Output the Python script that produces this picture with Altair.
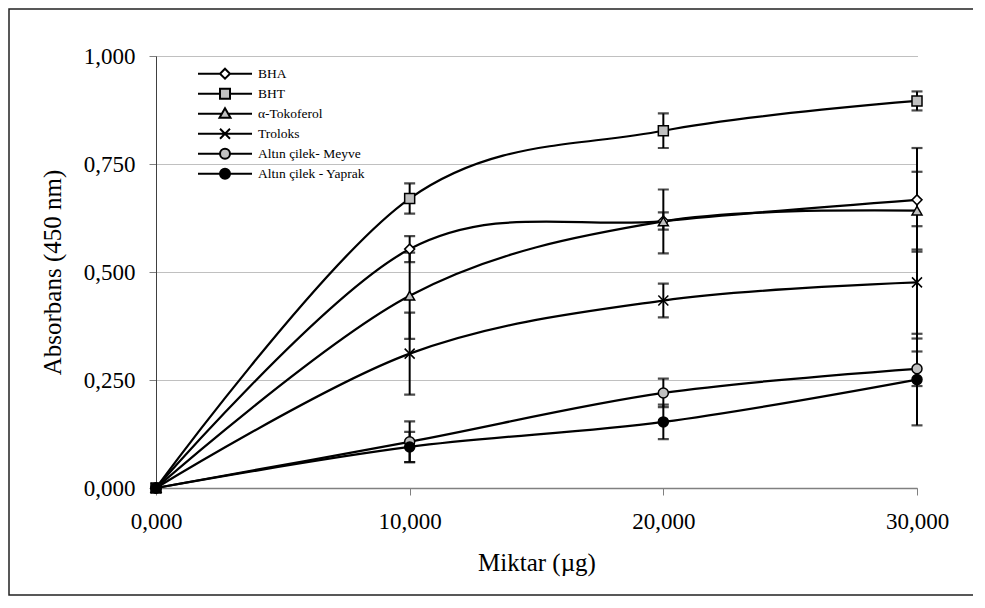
import altair as alt
import pandas as pd

# ---- data ----
amounts = [0, 10000, 20000, 30000]
series_names = ["BHA", "BHT", "α-Tokoferol", "Troloks",
                "Altın çilek- Meyve", "Altın çilek - Yaprak"]
bha = [0.000, 0.553, 0.618, 0.667]
bha_err = [0.0, 0.030, 0.020, 0.120]
bht = [0.000, 0.670, 0.827, 0.896]
bht_err = [0.0, 0.035, 0.040, 0.022]
tokoferol = [0.000, 0.445, 0.617, 0.642]
tokoferol_err = [0.0, 0.100, 0.074, 0.090]
troloks = [0.000, 0.311, 0.434, 0.476]
troloks_err = [0.0, 0.095, 0.039, 0.130]
meyve = [0.000, 0.107, 0.220, 0.276]
meyve_err = [0.0, 0.047, 0.033, 0.040]
yaprak = [0.000, 0.095, 0.153, 0.251]
yaprak_err = [0.0, 0.035, 0.040, 0.106]

y_ticks = [0, 0.25, 0.5, 0.75, 1.0]
x_ticks = [0, 10000, 20000, 30000]

values = [bha, bht, tokoferol, troloks, meyve, yaprak]
errors = [bha_err, bht_err, tokoferol_err, troloks_err, meyve_err, yaprak_err]

rows = []
for name, vals, errs in zip(series_names, values, errors):
    for a, v, e in zip(amounts, vals, errs):
        rows.append({"seri": name, "miktar": a, "abs": v, "err": e,
                     "lo": v - e, "hi": v + e})
df = pd.DataFrame(rows)

FONT = "Liberation Serif"
W, H = 761, 432

point_shapes = ["diamond", "square", "triangle-up",
                "M-1,-1L1,1M-1,1L1,-1", "circle", "circle"]
fills = ["white", "#c0c0c0", "#c0c0c0", "black", "#c0c0c0", "black"]

m = 0.185
t = 0.64 * m
legend_shapes = [
    f"M-1,0H{-m}M{m},0H1M0,{-m}L{m},0L0,{m}L{-m},0Z",
    f"M-1,0H{-m}M{m},0H1M{-m},{-m}H{m}V{m}H{-m}Z",
    f"M-1,0H{-t}M{t},0H1M0,{-1.1*m}L{1.1*m},{0.8*m}H{-1.1*m}Z",
    f"M-1,0H1M{-m},{-m}L{m},{m}M{-m},{m}L{m},{-m}",
    f"M-1,0H{-m}M{m},0H1M{m},0A{m},{m},0,1,1,{-m},0A{m},{m},0,1,1,{m},0Z",
    f"M-1,0H{-m}M{m},0H1M{m},0A{m},{m},0,1,1,{-m},0A{m},{m},0,1,1,{m},0Z",
]

xscale = alt.Scale(domain=[0, 30000], nice=False, zero=True)
yscale = alt.Scale(domain=[0, 1], nice=False)

x_enc = alt.X("miktar:Q", scale=xscale, axis=alt.Axis(
    values=x_ticks, title="Miktar (µg)", grid=False, labelFlush=False,
    labelExpr="replace(format(datum.value / 1000, '.3f'), '.', ',')",
    domainColor="#808080", domainWidth=1.5, tickColor="#808080",
    tickSize=7, tickWidth=1, labelPadding=15,
    labelFont=FONT, labelFontSize=23, labelColor="black",
    titleFont=FONT, titleFontSize=25, titleFontWeight="normal",
    titleColor="black", titlePadding=17))

y_enc = alt.Y("abs:Q", scale=yscale, axis=alt.Axis(
    values=y_ticks, title="Absorbans (450 nm)", labelFlush=False,
    labelExpr="replace(format(datum.value, '.3f'), '.', ',')",
    grid=True, gridColor="#808080", gridDash=[1, 1], gridWidth=1,
    domainColor="#404040", domainWidth=1, tickColor="#808080",
    tickSize=7, tickWidth=1, labelPadding=14,
    labelFont=FONT, labelFontSize=23, labelColor="black",
    titleFont=FONT, titleFontSize=25, titleFontWeight="normal",
    titleColor="black", titlePadding=18))

base = alt.Chart(df)

lines = base.mark_line(interpolate="cardinal", color="black",
                       strokeWidth=2.25).encode(
    x=x_enc, y=y_enc, detail="seri:N")

err_df = df[df["err"] > 0]
err_rules = alt.Chart(err_df).mark_rule(color="black", strokeWidth=2).encode(
    x="miktar:Q", y="lo:Q", y2="hi:Q")
cap_lo = alt.Chart(err_df).mark_tick(orient="horizontal", color="black",
                                     size=11, thickness=2.2).encode(
    x="miktar:Q", y="lo:Q")
cap_hi = alt.Chart(err_df).mark_tick(orient="horizontal", color="black",
                                     size=11, thickness=2.2).encode(
    x="miktar:Q", y="hi:Q")

points = base.mark_point(filled=True, stroke="black", strokeWidth=1.5,
                         size=100, opacity=1).encode(
    x="miktar:Q", y="abs:Q",
    shape=alt.Shape("seri:N", scale=alt.Scale(domain=series_names,
                                              range=point_shapes), legend=None),
    fill=alt.Fill("seri:N", scale=alt.Scale(domain=series_names,
                                            range=fills), legend=None))

leg_df = df[df["miktar"] == 0].rename(columns={"seri": "lseri"})
legend_layer = alt.Chart(leg_df).mark_point(filled=True, stroke="black",
                                             strokeWidth=2, opacity=0).encode(
    x="miktar:Q", y="abs:Q",
    shape=alt.Shape("lseri:N", scale=alt.Scale(domain=series_names,
                                               range=legend_shapes),
                    legend=alt.Legend(
                        orient="none", legendX=41, legendY=8, title=None,
                        symbolSize=2916, symbolStrokeWidth=2,
                        symbolOpacity=1,
                        clipHeight=19.4, rowPadding=0, padding=0,
                        labelFont=FONT, labelFontSize=13.5,
                        labelColor="black", labelOffset=5)),
    fill=alt.Fill("lseri:N", scale=alt.Scale(domain=series_names,
                                             range=fills)))

frame = alt.Chart(pd.DataFrame({"k": [0]})).mark_rect(
    fill=None, stroke="#222222", strokeWidth=1.5).encode(
    x=alt.value(-147), x2=alt.value(818), y=alt.value(-47), y2=alt.value(539))

chart = alt.layer(frame, lines, err_rules, cap_lo, cap_hi, points,
                  legend_layer).resolve_scale(
    shape="independent", fill="independent").properties(
    width=W, height=H,
    autosize=alt.AutoSizeParams(type="none"),
    padding={"left": 148, "top": 48, "right": 56, "bottom": 108},
    background="white",
).configure_view(stroke=None)

chart.save("out.html", embed_options={"renderer": "svg", "actions": False})
